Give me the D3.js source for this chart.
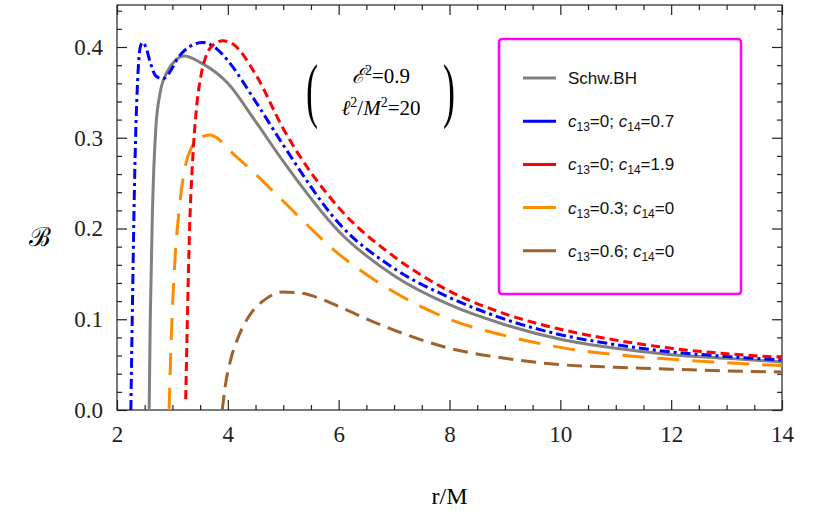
<!DOCTYPE html>
<html>
<head>
<meta charset="utf-8">
<script src="https://cdn.jsdelivr.net/npm/d3@7"></script>
<style>
  body { margin: 0; background: white; }
</style>
</head>
<body>
<svg id="chart"></svg>
<script>
// NEEDED VARIABLES
var width = 830, height = 514;
var margin = {top: 5, right: 48, bottom: 104, left: 117};
var serif = "Liberation Serif, Times New Roman, serif";

// DATA
var xTicks = [2, 4, 6, 8, 10, 12, 14];
var yTicks = [0.0, 0.1, 0.2, 0.3, 0.4];

var schwX = [2.58, 2.6, 2.64, 2.7, 2.78, 2.9, 3.05, 3.22, 3.5, 4, 4.5, 5, 6, 7, 8, 9, 10, 11, 12, 13, 14];
var schwY = [0, 0.1, 0.22, 0.31, 0.35, 0.372, 0.385, 0.39, 0.383, 0.36, 0.318, 0.274, 0.197, 0.148, 0.116, 0.094, 0.078, 0.068, 0.061, 0.057, 0.053];

var blueX = [2.25, 2.28, 2.32, 2.37, 2.42, 2.46, 2.52, 2.6, 2.7, 2.83, 2.95, 3.1, 3.3, 3.55, 3.8, 4, 4.5, 5, 6, 7, 8, 9, 10, 11, 12, 13, 14];
var blueY = [0, 0.12, 0.26, 0.36, 0.4, 0.405, 0.4, 0.383, 0.368, 0.365, 0.372, 0.388, 0.4, 0.405, 0.398, 0.385, 0.34, 0.292, 0.206, 0.156, 0.124, 0.1, 0.083, 0.072, 0.064, 0.059, 0.055];

var redX = [3.24, 3.27, 3.31, 3.36, 3.43, 3.52, 3.62, 3.75, 3.91, 4.1, 4.5, 5, 6, 7, 8, 9, 10, 11, 12, 13, 14];
var redY = [0.012, 0.1, 0.2, 0.27, 0.33, 0.37, 0.392, 0.403, 0.407, 0.403, 0.37, 0.31, 0.223, 0.169, 0.131, 0.106, 0.089, 0.077, 0.068, 0.062, 0.058];

var orangeX = [2.94, 2.98, 3.04, 3.12, 3.22, 3.35, 3.5, 3.68, 3.8, 4, 4.5, 5, 6, 7, 8, 9, 10, 11, 12, 13, 14];
var orangeY = [0, 0.08, 0.16, 0.22, 0.265, 0.29, 0.3, 0.303, 0.3, 0.288, 0.26, 0.23, 0.172, 0.13, 0.1, 0.082, 0.069, 0.061, 0.056, 0.052, 0.049];

var brownX = [3.9, 3.95, 4.05, 4.2, 4.4, 4.7, 4.98, 5.3, 5.7, 6, 7, 8, 9, 10, 11, 12, 13, 14];
var brownY = [0, 0.025, 0.055, 0.082, 0.105, 0.123, 0.13, 0.129, 0.122, 0.114, 0.088, 0.068, 0.057, 0.05, 0.047, 0.045, 0.043, 0.042];

var seriesNames = ["Schw.BH", "c13=0; c14=0.7", "c13=0; c14=1.9", "c13=0.3; c14=0", "c13=0.6; c14=0"];
var seriesColors = ["#808080", "#0000ff", "#ff0000", "#ff8c00", "#a0622d"];
var seriesDash = [null, "10,4,3,4", "9,5", "22,13", "15,8"];

var series = [
  {x: schwX, y: schwY}, {x: blueX, y: blueY}, {x: redX, y: redY},
  {x: orangeX, y: orangeY}, {x: brownX, y: brownY}
];

// SVG
var svg = d3.select("#chart").attr("width", width).attr("height", height);

var xScale = d3.scaleLinear().domain([2, 14]).range([margin.left, width - margin.right]);
var yScale = d3.scaleLinear().domain([0, 0.4]).range([height - margin.bottom, 47]);
var yTop = yScale.invert(margin.top);

svg.append("clipPath").attr("id", "clip").append("rect")
  .attr("x", margin.left).attr("y", margin.top)
  .attr("width", xScale(14) - margin.left).attr("height", yScale(0) - margin.top);

// Axes
function styleAxis(g){
  g.selectAll("path, line").attr("stroke", "#222").attr("stroke-width", 1.2);
  g.selectAll("text").style("font-family", serif).style("font-size", "23px").attr("fill", "#222");
}
svg.append("g").attr("transform", "translate(0," + yScale(0) + ")")
  .call(d3.axisBottom(xScale).tickValues(d3.range(2, 14.01, 0.5)).tickFormat(""))
  .call(g => g.select(".domain").remove()).call(styleAxis)
  .selectAll(".tick line").attr("y2", d => (d % 2 === 0) ? -10 : -5);
svg.append("g").attr("transform", "translate(0," + yScale(0) + ")")
  .call(d3.axisBottom(xScale).tickValues(xTicks).tickSize(0).tickPadding(16).tickFormat(d3.format("d")))
  .call(g => g.select(".domain").remove()).call(styleAxis);
svg.append("g").attr("transform", "translate(" + margin.left + ",0)")
  .call(d3.axisLeft(yScale).tickValues(d3.range(0, yTop, 0.02)).tickFormat(""))
  .call(g => g.select(".domain").remove()).call(styleAxis)
  .selectAll(".tick line").attr("x2", (d, i) => (i % 5 === 0) ? 10 : 5);
svg.append("g").attr("transform", "translate(" + margin.left + ",0)")
  .call(d3.axisLeft(yScale).tickValues(yTicks).tickSize(0).tickPadding(14).tickFormat(d3.format(".1f")))
  .call(g => g.select(".domain").remove()).call(styleAxis);
svg.append("g").attr("transform", "translate(" + xScale(14) + ",0)")
  .call(d3.axisRight(yScale).tickValues(d3.range(0, yTop, 0.02)).tickFormat(""))
  .call(g => g.select(".domain").remove()).call(styleAxis)
  .selectAll(".tick line").attr("x2", (d, i) => (i % 5 === 0) ? -10 : -5);
svg.append("g").attr("transform", "translate(0," + margin.top + ")")
  .call(d3.axisTop(xScale).tickValues(d3.range(2, 14.01, 0.5)).tickFormat(""))
  .call(g => g.select(".domain").remove()).call(styleAxis)
  .selectAll(".tick line").attr("y2", d => (d % 2 === 0) ? 10 : 5);

// frame
svg.append("rect").attr("x", margin.left).attr("y", margin.top)
  .attr("width", xScale(14) - margin.left).attr("height", yScale(0) - margin.top)
  .attr("fill", "none").attr("stroke", "#222").attr("stroke-width", 1.2);

// Lines
var line = d3.line().x(d => xScale(d[0])).y(d => yScale(d[1])).curve(d3.curveMonotoneX);
var plot = svg.append("g").attr("clip-path", "url(#clip)");
[4, 3, 0, 1, 2].forEach(function(i){
  plot.append("path")
    .datum(d3.zip(series[i].x, series[i].y))
    .attr("d", line)
    .attr("fill", "none")
    .attr("stroke", seriesColors[i])
    .attr("stroke-width", 3)
    .attr("stroke-dasharray", seriesDash[i]);
});

// Axis labels
svg.append("text").attr("x", xScale(8)).attr("y", 504).attr("text-anchor", "middle")
  .style("font-family", serif).style("font-size", "24px").text("r/M");
svg.append("text").attr("x", 40).attr("y", 246).attr("text-anchor", "middle")
  .style("font-family", serif).style("font-size", "26px").text("ℬ");

// Parameter annotation
var ann = svg.append("g").style("font-family", serif);
ann.append("text").attr("x", 306).attr("y", 114).style("font-size", "72px")
  .attr("transform", "translate(306,0) scale(0.5,1) translate(-306,0)").text("(");
ann.append("text").attr("x", 443).attr("y", 114).style("font-size", "72px")
  .attr("transform", "translate(443,0) scale(0.5,1) translate(-443,0)").text(")");
var a1 = ann.append("text").attr("x", 381).attr("y", 83).attr("text-anchor", "middle").style("font-size", "21px");
a1.append("tspan").attr("font-style", "italic").text("ℰ");
a1.append("tspan").attr("dy", -8).style("font-size", "14px").text("2");
a1.append("tspan").attr("dy", 8).text("=0.9");
var a2 = ann.append("text").attr("x", 381).attr("y", 115).attr("text-anchor", "middle").style("font-size", "21px");
a2.append("tspan").attr("font-style", "italic").text("ℓ");
a2.append("tspan").attr("dy", -8).style("font-size", "14px").text("2");
a2.append("tspan").attr("dy", 8).text("/");
a2.append("tspan").attr("font-style", "italic").text("M");
a2.append("tspan").attr("dy", -8).style("font-size", "14px").text("2");
a2.append("tspan").attr("dy", 8).text("=20");

// Legend
var legend = svg.append("g");
legend.append("rect").attr("x", 499).attr("y", 39).attr("width", 242).attr("height", 255)
  .attr("rx", 3).attr("fill", "white").attr("stroke", "#ff00ff").attr("stroke-width", 2.5);
seriesNames.forEach(function(name, i){
  var yy = 78 + i * 43.2;
  legend.append("line").attr("x1", 523).attr("x2", 556).attr("y1", yy).attr("y2", yy)
    .attr("stroke", seriesColors[i]).attr("stroke-width", 3);
  var t = legend.append("text").attr("x", 568).attr("y", yy + 6)
    .style("font-family", "Liberation Sans, Arial, sans-serif").style("font-size", "17px").attr("fill", "#111");
  var m = name.match(/^c13=([\d.]+); c14=([\d.]+)$/);
  if (!m) { t.text(name); return; }
  t.append("tspan").attr("font-style", "italic").text("c");
  t.append("tspan").attr("dy", 4).style("font-size", "12px").text("13");
  t.append("tspan").attr("dy", -4).text("=" + m[1] + "; ");
  t.append("tspan").attr("font-style", "italic").text("c");
  t.append("tspan").attr("dy", 4).style("font-size", "12px").text("14");
  t.append("tspan").attr("dy", -4).text("=" + m[2]);
});
</script>
</body>
</html>
